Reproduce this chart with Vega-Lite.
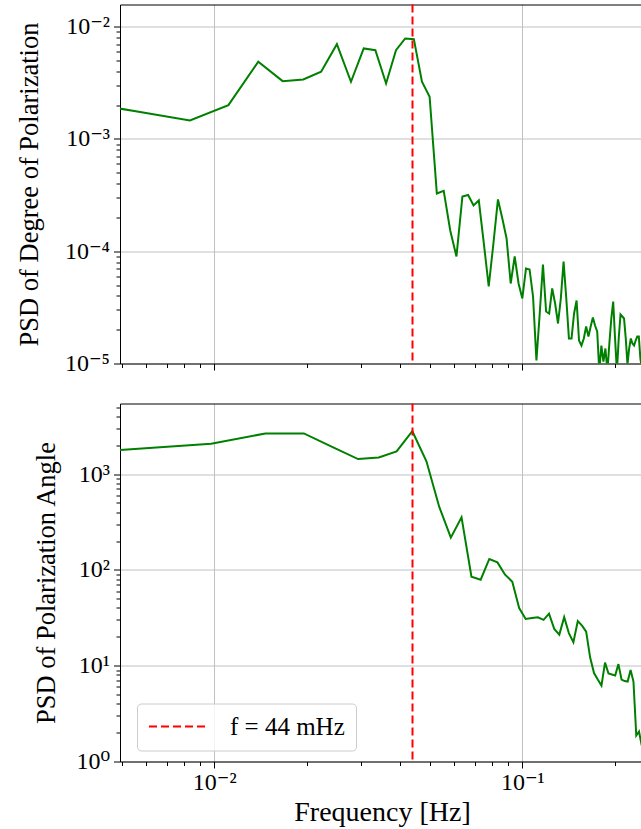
{
  "$schema": "https://vega.github.io/schema/vega-lite/v6.json",
  "padding": {"left": 15, "top": 3.5, "right": 0, "bottom": 0},
  "spacing": 19,
  "config": {
    "view": {"stroke": null},
    "axis": {
      "domainColor": "#000000", "domainWidth": 1,
      "tickColor": "#000000", "tickWidth": 1,
      "labelFont": "Liberation Serif, DejaVu Serif", "labelFontSize": 24, "labelColor": "#000000",
      "titleFont": "Liberation Serif, DejaVu Serif", "titleFontSize": 26.5, "titleFontWeight": "normal", "titleColor": "#000000",
      "gridColor": "#c0c0c0", "gridWidth": 1,
      "labelOverlap": false, "labelFlush": false, "labelBound": false
    }
  },
  "datasets": {
    "marker": [{"freq": 0.044, "label": "f = 44 mHz"}],
    "dop": [
      {"freq": 0.002778, "psd": 0.002453}, {"freq": 0.005556, "psd": 0.001763}, {"freq": 0.008333, "psd": 0.001463},
      {"freq": 0.011111, "psd": 0.002001}, {"freq": 0.013889, "psd": 0.004877}, {"freq": 0.016667, "psd": 0.003276},
      {"freq": 0.019444, "psd": 0.003392}, {"freq": 0.022222, "psd": 0.003972}, {"freq": 0.025, "psd": 0.006998},
      {"freq": 0.027778, "psd": 0.003236}, {"freq": 0.030556, "psd": 0.006405}, {"freq": 0.033333, "psd": 0.006186},
      {"freq": 0.036111, "psd": 0.003125}, {"freq": 0.038889, "psd": 0.006186}, {"freq": 0.041667, "psd": 0.007866},
      {"freq": 0.044444, "psd": 0.007754}, {"freq": 0.047222, "psd": 0.003236}, {"freq": 0.05, "psd": 0.002378},
      {"freq": 0.052778, "psd": 0.000327}, {"freq": 0.055556, "psd": 0.0003457}, {"freq": 0.058333, "psd": 0.0001531},
      {"freq": 0.061111, "psd": 0.0000898}, {"freq": 0.063889, "psd": 0.0003075}, {"freq": 0.066667, "psd": 0.000317},
      {"freq": 0.069444, "psd": 0.0002557}, {"freq": 0.072222, "psd": 0.0002834}, {"freq": 0.075, "psd": 0.0001172},
      {"freq": 0.077778, "psd": 0.00004853}, {"freq": 0.080556, "psd": 0.0001172}, {"freq": 0.083333, "psd": 0.0002892},
      {"freq": 0.086111, "psd": 0.0001958}, {"freq": 0.088889, "psd": 0.0001299}, {"freq": 0.091667, "psd": 0.0000516},
      {"freq": 0.094444, "psd": 0.0000898}, {"freq": 0.097222, "psd": 0.0000516}, {"freq": 0.1, "psd": 0.00003794},
      {"freq": 0.102778, "psd": 0.0000702}, {"freq": 0.105556, "psd": 0.0000688}, {"freq": 0.108333, "psd": 0.00003953},
      {"freq": 0.111111, "psd": 0.00001063}, {"freq": 0.113889, "psd": 0.0000279}, {"freq": 0.116667, "psd": 0.0000762},
      {"freq": 0.119444, "psd": 0.00002905}, {"freq": 0.122222, "psd": 0.0000279}, {"freq": 0.125, "psd": 0.0000466},
      {"freq": 0.127778, "psd": 0.00003424}, {"freq": 0.130556, "psd": 0.00002272}, {"freq": 0.133333, "psd": 0.00003794},
      {"freq": 0.136111, "psd": 0.000081}, {"freq": 0.138889, "psd": 0.00003794}, {"freq": 0.141667, "psd": 0.0000167},
      {"freq": 0.144444, "psd": 0.0000167}, {"freq": 0.147222, "psd": 0.0000279}, {"freq": 0.15, "psd": 0.0000364},
      {"freq": 0.152778, "psd": 0.00001602}, {"freq": 0.155556, "psd": 0.00001446}, {"freq": 0.158333, "psd": 0.0000167},
      {"freq": 0.161111, "psd": 0.00002136}, {"freq": 0.163889, "psd": 0.0000174}, {"freq": 0.166667, "psd": 0.00002136},
      {"freq": 0.169444, "psd": 0.0000257}, {"freq": 0.172222, "psd": 0.0000218}, {"freq": 0.175, "psd": 0.00001928},
      {"freq": 0.177778, "psd": 0.0000085}, {"freq": 0.180556, "psd": 0.00001446}, {"freq": 0.183333, "psd": 0.0000104},
      {"freq": 0.186111, "psd": 0.0000136}, {"freq": 0.188889, "psd": 0.0000085}, {"freq": 0.191667, "psd": 0.00001506},
      {"freq": 0.194444, "psd": 0.00002518}, {"freq": 0.197222, "psd": 0.00003567}, {"freq": 0.2, "psd": 0.0000167},
      {"freq": 0.202778, "psd": 0.0000085}, {"freq": 0.205556, "psd": 0.0000167}, {"freq": 0.208333, "psd": 0.00002733},
      {"freq": 0.211111, "psd": 0.00002623}, {"freq": 0.213889, "psd": 0.00002518}, {"freq": 0.216667, "psd": 0.0000167},
      {"freq": 0.219444, "psd": 0.0000098}, {"freq": 0.222222, "psd": 0.0000136}, {"freq": 0.225, "psd": 0.0000167},
      {"freq": 0.227778, "psd": 0.00001506}, {"freq": 0.230556, "psd": 0.00001446}, {"freq": 0.233333, "psd": 0.00001602},
      {"freq": 0.236111, "psd": 0.0000174}, {"freq": 0.238889, "psd": 0.0000174}, {"freq": 0.241667, "psd": 0.00001108},
      {"freq": 0.244444, "psd": 0.000009}
    ],
    "angle": [
      {"freq": 0.004883, "psd": 1780}, {"freq": 0.009766, "psd": 2070}, {"freq": 0.014648, "psd": 2651},
      {"freq": 0.019531, "psd": 2651}, {"freq": 0.024414, "psd": 1885}, {"freq": 0.029297, "psd": 1433},
      {"freq": 0.03418, "psd": 1490}, {"freq": 0.039063, "psd": 1720}, {"freq": 0.043945, "psd": 2795},
      {"freq": 0.048828, "psd": 1360}, {"freq": 0.053711, "psd": 456}, {"freq": 0.058594, "psd": 216.7},
      {"freq": 0.063477, "psd": 352.7}, {"freq": 0.068359, "psd": 84.9}, {"freq": 0.073242, "psd": 79.0},
      {"freq": 0.078125, "psd": 129.9}, {"freq": 0.083008, "psd": 119.7}, {"freq": 0.087891, "psd": 89.1},
      {"freq": 0.092773, "psd": 75.3}, {"freq": 0.097656, "psd": 39.87}, {"freq": 0.102539, "psd": 30.76},
      {"freq": 0.107422, "psd": 31.36}, {"freq": 0.112305, "psd": 31.96}, {"freq": 0.117188, "psd": 30.1},
      {"freq": 0.12207, "psd": 34.94}, {"freq": 0.126953, "psd": 24.19}, {"freq": 0.131836, "psd": 21.1},
      {"freq": 0.136719, "psd": 32.12}, {"freq": 0.141602, "psd": 21.88}, {"freq": 0.146484, "psd": 17.54},
      {"freq": 0.151367, "psd": 29.18}, {"freq": 0.15625, "psd": 26.19}, {"freq": 0.161133, "psd": 22.68},
      {"freq": 0.166016, "psd": 12.15}, {"freq": 0.170898, "psd": 8.374}, {"freq": 0.175781, "psd": 7.164},
      {"freq": 0.180664, "psd": 6.201}, {"freq": 0.185547, "psd": 10.77}, {"freq": 0.19043, "psd": 8.274},
      {"freq": 0.195313, "psd": 8.078}, {"freq": 0.200195, "psd": 7.886}, {"freq": 0.205078, "psd": 10.39},
      {"freq": 0.209961, "psd": 7.164}, {"freq": 0.214844, "psd": 6.91}, {"freq": 0.219727, "psd": 6.83},
      {"freq": 0.224609, "psd": 9.0}, {"freq": 0.229492, "psd": 6.83}, {"freq": 0.234375, "psd": 1.867},
      {"freq": 0.239258, "psd": 2.055}, {"freq": 0.244141, "psd": 1.468}
    ]
  },
  "vconcat": [
    {
      "width": 522,
      "height": 359,
      "layer": [
        {
          "data": {"name": "dop"},
          "mark": {"type": "line", "color": "#008000", "strokeWidth": 2, "clip": true},
          "encoding": {
            "x": {
              "field": "freq", "type": "quantitative",
              "scale": {"type": "log", "domain": [0.004941, 0.24462], "nice": false},
              "axis": {
                "values": [0.005, 0.006, 0.007, 0.008, 0.009, 0.01, 0.02, 0.03, 0.04, 0.05, 0.06, 0.07, 0.08, 0.09, 0.1, 0.2],
                "labels": false, "title": null, "tickSize": 6.5,
                "tickDash": {"condition": {"test": "abs(log(datum.value)/LN10 - round(log(datum.value)/LN10)) < 0.001", "value": []}, "value": [4, 20]},
                "grid": true,
                "gridOpacity": {"condition": {"test": "abs(log(datum.value)/LN10 - round(log(datum.value)/LN10)) < 0.001", "value": 1}, "value": 0}
              }
            },
            "y": {
              "field": "psd", "type": "quantitative",
              "scale": {"type": "log", "domain": [0.00001, 0.01578], "nice": false},
              "axis": {
                "values": [0.00001, 0.00002, 0.00003, 0.00004, 0.00005, 0.00006, 0.00007, 0.00008, 0.00009, 0.0001, 0.0002, 0.0003, 0.0004, 0.0005, 0.0006, 0.0007, 0.0008, 0.0009, 0.001, 0.002, 0.003, 0.004, 0.005, 0.006, 0.007, 0.008, 0.009, 0.01],
                "labelExpr": "abs(log(datum.value)/LN10 - round(log(datum.value)/LN10)) < 0.001 ? '10' + (round(log(datum.value)/LN10) < 0 ? '⁻' : '') + substring('⁰¹²³⁴⁵⁶⁷⁸⁹', abs(round(log(datum.value)/LN10)), abs(round(log(datum.value)/LN10)) + 1) : ''",
                "tickSize": 6.5, "labelPadding": 4,
                "tickDash": {"condition": {"test": "abs(log(datum.value)/LN10 - round(log(datum.value)/LN10)) < 0.001", "value": []}, "value": [4, 20]},
                "grid": true,
                "gridOpacity": {"condition": {"test": "abs(log(datum.value)/LN10 - round(log(datum.value)/LN10)) < 0.001", "value": 1}, "value": 0},
                "title": "PSD of Degree of Polarization",
                "titleAngle": -90, "titleBaseline": "alphabetic", "titleAlign": "center",
                "titleX": -83, "titleY": 179.5
              }
            }
          }
        },
        {
          "data": {"name": "marker"},
          "mark": {"type": "rule", "color": "#ff0000", "strokeWidth": 2, "strokeDash": [8, 4]},
          "encoding": {
            "x": {
              "field": "freq", "type": "quantitative",
              "scale": {"type": "log", "domain": [0.004941, 0.24462], "nice": false},
              "axis": {"orient": "top", "domain": true, "ticks": false, "labels": false, "grid": false, "title": null}
            }
          }
        }
      ],
      "resolve": {"axis": {"x": "independent"}}
    },
    {
      "width": 522,
      "height": 358,
      "layer": [
        {
          "data": {"name": "angle"},
          "mark": {"type": "line", "color": "#008000", "strokeWidth": 2, "clip": true},
          "encoding": {
            "x": {
              "field": "freq", "type": "quantitative",
              "scale": {"type": "log", "domain": [0.004941, 0.24462], "nice": false},
              "axis": {
                "values": [0.005, 0.006, 0.007, 0.008, 0.009, 0.01, 0.02, 0.03, 0.04, 0.05, 0.06, 0.07, 0.08, 0.09, 0.1, 0.2],
                "labelExpr": "abs(log(datum.value)/LN10 - round(log(datum.value)/LN10)) < 0.001 ? '10' + (round(log(datum.value)/LN10) < 0 ? '⁻' : '') + substring('⁰¹²³⁴⁵⁶⁷⁸⁹', abs(round(log(datum.value)/LN10)), abs(round(log(datum.value)/LN10)) + 1) : ''",
                "tickSize": 6.5, "labelPadding": 2,
                "tickDash": {"condition": {"test": "abs(log(datum.value)/LN10 - round(log(datum.value)/LN10)) < 0.001", "value": []}, "value": [4, 20]},
                "grid": true,
                "gridOpacity": {"condition": {"test": "abs(log(datum.value)/LN10 - round(log(datum.value)/LN10)) < 0.001", "value": 1}, "value": 0},
                "title": "Frequency [Hz]", "titleFontSize": 28,
                "titleBaseline": "alphabetic", "titleAlign": "center",
                "titleX": 262, "titleY": 59
              }
            },
            "y": {
              "field": "psd", "type": "quantitative",
              "scale": {"type": "log", "domain": [1, 5445], "nice": false},
              "axis": {
                "values": [1, 2, 3, 4, 5, 6, 7, 8, 9, 10, 20, 30, 40, 50, 60, 70, 80, 90, 100, 200, 300, 400, 500, 600, 700, 800, 900, 1000, 2000, 3000, 4000, 5000],
                "labelExpr": "abs(log(datum.value)/LN10 - round(log(datum.value)/LN10)) < 0.001 ? '10' + (round(log(datum.value)/LN10) < 0 ? '⁻' : '') + substring('⁰¹²³⁴⁵⁶⁷⁸⁹', abs(round(log(datum.value)/LN10)), abs(round(log(datum.value)/LN10)) + 1) : ''",
                "tickSize": 6.5, "labelPadding": 4,
                "tickDash": {"condition": {"test": "abs(log(datum.value)/LN10 - round(log(datum.value)/LN10)) < 0.001", "value": []}, "value": [4, 20]},
                "grid": true,
                "gridOpacity": {"condition": {"test": "abs(log(datum.value)/LN10 - round(log(datum.value)/LN10)) < 0.001", "value": 1}, "value": 0},
                "title": "PSD of Polarization Angle",
                "titleAngle": -90, "titleBaseline": "alphabetic", "titleAlign": "center",
                "titleX": -66, "titleY": 179
              }
            }
          }
        },
        {
          "data": {"name": "marker"},
          "mark": {"type": "rule", "strokeWidth": 2, "strokeDash": [8, 4]},
          "encoding": {
            "x": {
              "field": "freq", "type": "quantitative",
              "scale": {"type": "log", "domain": [0.004941, 0.24462], "nice": false},
              "axis": {"orient": "top", "domain": true, "ticks": false, "labels": false, "grid": false, "title": null}
            },
            "color": {
              "field": "label", "type": "nominal",
              "scale": {"range": ["#ff0000"]},
              "legend": {
                "title": null, "orient": "none", "legendX": 17, "legendY": 699,
                "symbolType": "stroke", "symbolSize": 3249, "symbolStrokeWidth": 2, "symbolDash": [8, 4],
                "clipHeight": 24, "labelOffset": 23,
                "labelFont": "Liberation Serif, DejaVu Serif", "labelFontSize": 25, "labelColor": "#000000",
                "padding": 11, "fillColor": "rgba(255,255,255,0.8)", "strokeColor": "#cccccc", "cornerRadius": 4
              }
            }
          }
        }
      ],
      "resolve": {"axis": {"x": "independent"}}
    }
  ]
}
